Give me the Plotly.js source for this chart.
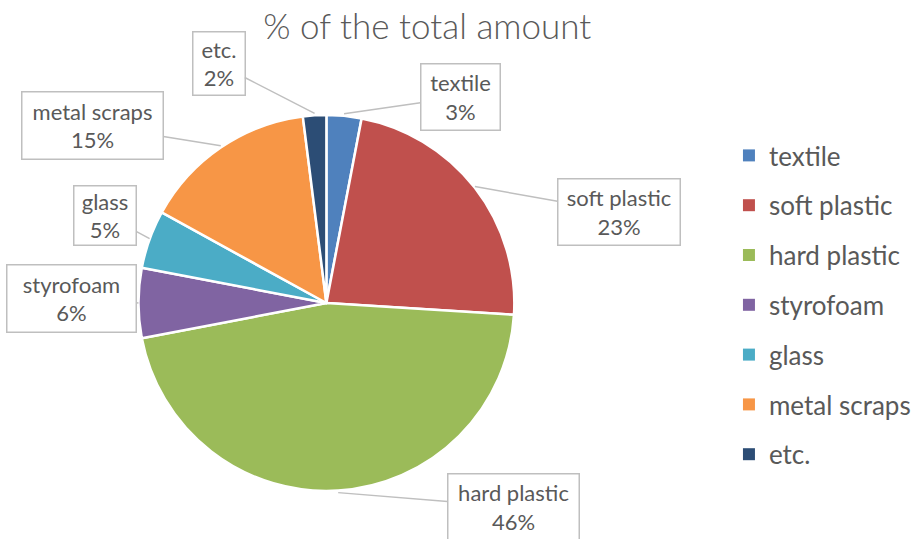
<!DOCTYPE html>
<html>
<head>
<meta charset="utf-8">
<script src="https://cdn.plot.ly/plotly-3.0.1.min.js"></script>
<style>html,body{margin:0;padding:0;background:#fff;}#chart{width:916px;height:539px;}</style>
</head>
<body>
<div id="chart"></div>
<script>
// ---- data ----
const categories = ["textile", "soft plastic", "hard plastic", "styrofoam", "glass", "metal scraps", "etc."];
const shares = [3, 23, 46, 6, 5, 15, 2];
const colors = ["#4F81BD", "#C0504D", "#9BBB59", "#8064A2", "#4BACC6", "#F79646", "#2C4D75"];
const chartTitle = "% of the total amount";

// ---- layout config (pixels) ----
const W = 916, H = 539;
const pie = {cx: 330, cy: 303, r: 190};
// label box centres and sizes (px)
const boxes = [
  {x: 464, y: 97,  w: 78,  h: 65},
  {x: 624, y: 212, w: 121, h: 65},
  {x: 517, y: 507, w: 130, h: 65},
  {x: 73,  y: 298, w: 128, h: 66},
  {x: 107, y: 215, w: 61,  h: 58},
  {x: 95,  y: 125, w: 140, h: 66},
  {x: 222, y: 64,  w: 51,  h: 62}
];
const textColor = "#595959";
const font = "Lato, 'Open Sans', sans-serif";

const total = shares.reduce((a, b) => a + b, 0);
let cum = 0;
const annotations = shares.map((v, i) => {
  const mid = (cum + v / 2) / total;
  cum += v;
  const th = 2 * Math.PI * mid;
  const tx = pie.cx + pie.r * Math.sin(th);
  const ty = pie.cy - pie.r * Math.cos(th);
  const b = boxes[i];
  return {
    xref: "paper", yref: "paper",
    x: tx / W, y: 1 - ty / H,
    ax: b.x - tx, ay: b.y - ty,
    text: categories[i] + "<br>" + Math.round(v / total * 100) + "%",
    showarrow: true, arrowhead: 0, arrowwidth: 1.5, arrowcolor: "#BFBFBF", standoff: 0,
    bordercolor: "#BFBFBF", borderwidth: 1.5, bgcolor: "#FFFFFF",
    width: b.w, height: b.h, borderpad: 0,
    font: {family: font, size: 22, color: textColor},
    align: "center", valign: "middle"
  };
});

const traces = [{
  type: "pie",
  labels: categories,
  values: shares,
  sort: false,
  direction: "clockwise",
  rotation: 0,
  textinfo: "none",
  hoverinfo: "label+percent",
  showlegend: false,
  marker: {colors: colors, line: {color: "#FFFFFF", width: 2.5}},
  domain: {x: [(pie.cx - pie.r) / W, (pie.cx + pie.r) / W], y: [1 - (pie.cy + pie.r) / H, 1 - (pie.cy - pie.r) / H]}
}];
// legend entries (one group each so the spacing can be set)
categories.forEach((c, i) => {
  traces.push({
    type: "scatter", mode: "markers", x: [null], y: [null],
    name: c, legendgroup: "g" + i, showlegend: true,
    marker: {symbol: "square", size: 10, color: colors[i]},
    hoverinfo: "skip"
  });
});

const layout = {
  width: W, height: H,
  margin: {l: 0, r: 0, t: 0, b: 0},
  paper_bgcolor: "#FFFFFF", plot_bgcolor: "#FFFFFF",
  title: {text: chartTitle, x: 432 / W, xref: "paper", xanchor: "center", y: 1 - 27 / H, yanchor: "middle",
          font: {family: font, size: 35, color: textColor, weight: 300}},
  xaxis: {visible: false}, yaxis: {visible: false},
  showlegend: true,
  legend: {x: 737 / W, y: 1 - 132 / H, xanchor: "left", yanchor: "top",
           font: {family: font, size: 26, color: textColor},
           tracegroupgap: 13, itemsizing: "constant", itemwidth: 30,
           bgcolor: "rgba(0,0,0,0)"},
  annotations: annotations
};

Plotly.newPlot("chart", traces, layout, {displayModeBar: false, staticPlot: true});
</script>
</body>
</html>
